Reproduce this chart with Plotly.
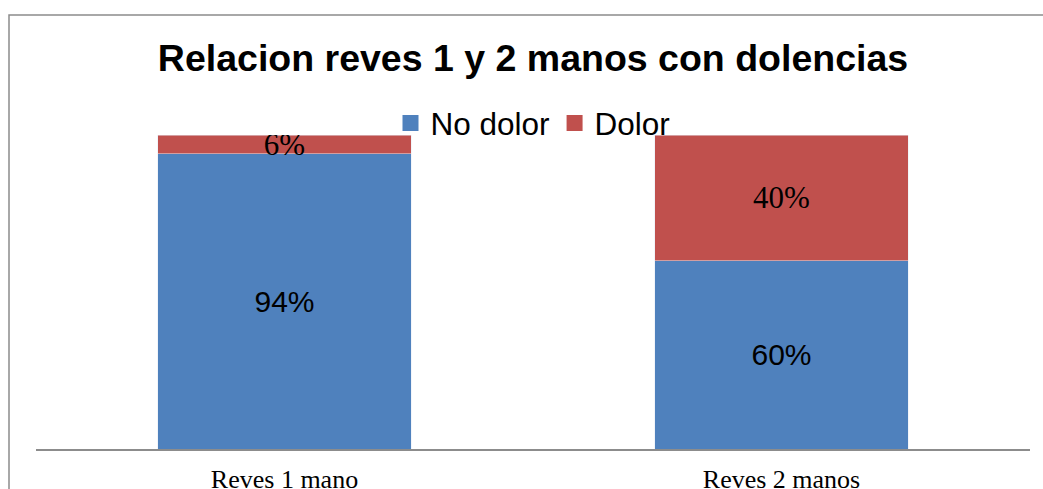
import plotly.graph_objects as go

categories = ["Reves 1 mano", "Reves 2 manos"]
no_dolor = [94, 60]
dolor = [6, 40]
series_names = ["No dolor", "Dolor"]
title_text = "Relacion reves 1 y 2 manos con dolencias"

BLUE = "#4F81BD"
RED = "#C0504D"
SANS = "Liberation Sans"
SERIF = "Liberation Serif"

sans_font = dict(family=SANS, size=30, color="black")
serif_font = dict(family=SERIF, size=31, color="black")

fig = go.Figure()
fig.add_trace(go.Bar(
    x=categories, y=no_dolor, name=series_names[0], marker_color=BLUE,
    text=[f"{v}%" for v in no_dolor], textposition="inside",
    insidetextanchor="middle", constraintext="none", textangle=0,
    textfont=sans_font, insidetextfont=sans_font, outsidetextfont=sans_font,
    showlegend=False, hoverinfo="skip"))
fig.add_trace(go.Bar(
    x=categories, y=dolor, name=series_names[1], marker_color=RED,
    text=[f"<span style='font-family:\"Liberation Serif\",serif'>{v}%</span>" for v in dolor],
    textposition="inside",
    insidetextanchor="middle", constraintext="none", textangle=0,
    textfont=serif_font, insidetextfont=serif_font, outsidetextfont=serif_font,
    showlegend=False, hoverinfo="skip"))

# legend entries
for name, col in zip(series_names, [BLUE, RED]):
    fig.add_trace(go.Scatter(
        x=[None], y=[None], mode="markers", name=name,
        marker=dict(symbol="square", size=17, color=col), showlegend=True))

# outer chart border
fig.add_shape(type="rect", xref="paper", yref="paper",
              x0=(9 - 36) / 994, x1=(1060 - 36) / 994,
              y0=(449 - 520) / 314, y1=(449 - 15) / 314,
              line=dict(color="#8C8C8C", width=1.5), fillcolor="rgba(0,0,0,0)",
              layer="below")

fig.update_layout(
    width=1043, height=489,
    margin=dict(l=36, r=13, t=135, b=40, autoexpand=False),
    paper_bgcolor="white", plot_bgcolor="white",
    barmode="stack", bargap=0.489,
    title=dict(text=f"<b>{title_text}</b>", x=0.5, xref="paper",
               y=1 - 58 / 489, yref="container", yanchor="middle", xanchor="center",
               font=dict(family=SANS, size=37.5, color="black")),
    legend=dict(orientation="h", x=0.5, xanchor="center",
                y=(449 - 123) / 314, yanchor="middle",
                bgcolor="rgba(0,0,0,0)", font=dict(family=SANS, size=31.5, color="black"),
                itemsizing="trace", traceorder="normal"),
    showlegend=True,
)
fig.update_xaxes(showline=True, linecolor="#8C8C8C", linewidth=1.5,
                 showgrid=False, ticks="", ticklabelstandoff=6,
                 tickfont=dict(family=SERIF, size=26, color="black"))
fig.update_yaxes(range=[0, 100], visible=False, showgrid=False)

fig.write_html("out.html", config={"displayModeBar": False},
               post_script="document.body.style.margin='0';document.body.style.overflow='hidden';")
